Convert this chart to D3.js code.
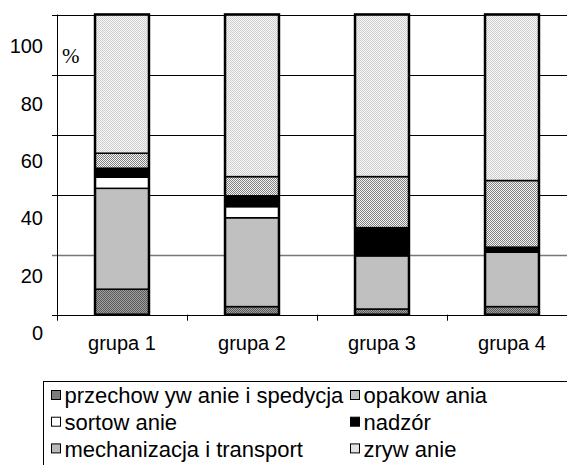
<!DOCTYPE html>
<meta charset="utf-8">
<style>
  body { margin: 0; background: #fff; }
  text { font-family: "Liberation Sans", Arial, sans-serif; fill: #000; }
  .grid line { stroke: #000; stroke-width: 1px; }
  .seg { stroke: #000; stroke-width: 1.5px; }
  .outline { fill: none; stroke: #000; stroke-width: 2.5px; }
</style>
<svg width="567" height="465"></svg>
<script src="https://cdn.jsdelivr.net/npm/d3@7"></script>
<script>

  var groups = ["grupa 1", "grupa 2", "grupa 3", "grupa 4"];
  var series = ["przechow yw anie i spedycja", "opakow ania", "sortow anie", "nadzór", "mechanizacja i transport", "zryw anie"];

  // udzialy w % (od dolu do gory)
  var przechowywanie = [8.5, 2.7, 1.9, 2.7];
  var opakowania     = [33.6, 29.6, 17.7, 18.1];
  var sortowanie     = [3.7, 3.7, 0, 0];
  var nadzor         = [3.0, 3.6, 9.4, 1.7];
  var mechanizacja   = [5.0, 6.4, 17.0, 22.2];
  var zrywanie       = [46.2, 54.0, 54.0, 55.3];

  var yTicks = [0, 20, 40, 60, 80, 100];

  var svg = d3.select("svg");

  // wzory wypelnien
  var defs = svg.append("defs");
  function checker(id, a, b) {
    var p = defs.append("pattern").attr("id", id)
          .attr("width", 2).attr("height", 2)
          .attr("patternUnits", "userSpaceOnUse");
    p.append("rect").attr("width", 2).attr("height", 2).attr("fill", b);
    p.append("rect").attr("width", 1).attr("height", 1).attr("fill", a);
    p.append("rect").attr("x", 1).attr("y", 1).attr("width", 1).attr("height", 1).attr("fill", a);
  }
  checker("p0", "#5a5a5a", "#a0a0a0");
  checker("p4", "#808080", "#f4f4f4");
  checker("p5", "#cfcfcf", "#f6f6f6");

  var fills = ["url(#p0)", "#c0c0c0", "#ffffff", "#000000", "url(#p4)", "url(#p5)"];

  var x = d3.scaleBand().domain(groups).range([57, 577])
        .paddingInner(0.585).paddingOuter(0.2925);
  var y = d3.scaleLinear().domain([0, 100]).range([314.7, 14.5]);
  var yLabel = d3.scaleLinear().domain([0, 100]).range([333, 46]); // etykiety przesuniete jak w oryginale

  // siatka
  svg.append("g").attr("class", "grid")
        .selectAll("line")
        .data(yTicks)
        .enter().append("line")
        .attr("x1", 52).attr("x2", 577)
        .attr("y1", function (d) { return Math.round(y(d)) + 0.5; })
        .attr("y2", function (d) { return Math.round(y(d)) + 0.5; })
        .style("stroke", function (d) { return d === 20 ? "#777" : "#000"; })
        .style("stroke-width", function (d) { return d === 20 ? 1.5 : 1; });

  // os Y
  svg.append("line").attr("x1", 57.5).attr("x2", 57.5)
        .attr("y1", y(100)).attr("y2", y(0)).attr("stroke", "#000");

  svg.append("g").selectAll("text")
        .data(yTicks)
        .enter().append("text")
        .attr("x", 43)
        .attr("y", function (d) { return yLabel(d); })
        .attr("dy", "0.36em")
        .attr("text-anchor", "end")
        .style("font-size", "20px")
        .text(function (d) { return d; });

  svg.append("text").attr("x", 62).attr("y", 63)
        .style("font-family", "'Liberation Serif', 'DejaVu Serif', serif")
        .style("font-size", "21px")
        .text("%");

  // os X - znaczniki na granicach kategorii
  var bounds = d3.range(groups.length).map(function (i) { return x.range()[0] + i * x.step(); });
  svg.append("g").selectAll("line")
        .data(bounds)
        .enter().append("line")
        .attr("x1", function (d) { return Math.round(d) + 0.5; })
        .attr("x2", function (d) { return Math.round(d) + 0.5; })
        .attr("y1", y(0)).attr("y2", y(0) + 6)
        .attr("stroke", "#000");

  svg.append("g").selectAll("text")
        .data(groups)
        .enter().append("text")
        .attr("x", function (d) { return x(d) + x.bandwidth() / 2; })
        .attr("y", 350)
        .attr("text-anchor", "middle")
        .style("font-size", "20px")
        .text(function (d) { return d; });

  // dane do stosu
  var table = groups.map(function (g, i) {
    return {group: g, s0: przechowywanie[i], s1: opakowania[i], s2: sortowanie[i],
            s3: nadzor[i], s4: mechanizacja[i], s5: zrywanie[i]};
  });
  var stack = d3.stack().keys(["s0", "s1", "s2", "s3", "s4", "s5"])(table);

  var layer = svg.append("g").selectAll("g")
        .data(stack)
        .enter().append("g")
        .attr("fill", function (d, i) { return fills[i]; });

  layer.selectAll("rect")
        .data(function (d) { return d.filter(function (e) { return e[1] - e[0] > 0; }); })
        .enter().append("rect")
        .attr("class", "seg")
        .attr("x", function (d) { return x(d.data.group); })
        .attr("width", x.bandwidth())
        .attr("y", function (d) { return y(d[1]); })
        .attr("height", function (d) { return y(d[0]) - y(d[1]); });

  svg.append("g").selectAll("rect")
        .data(groups)
        .enter().append("rect")
        .attr("class", "outline")
        .attr("x", function (d) { return x(d); })
        .attr("width", x.bandwidth())
        .attr("y", y(100))
        .attr("height", y(0) - y(100));

  // legenda
  svg.append("rect").attr("x", 43.5).attr("y", 381.5)
        .attr("width", 600).attr("height", 200)
        .attr("fill", "none").attr("stroke", "#000");

  var legend = svg.append("g").selectAll("g")
        .data(series)
        .enter().append("g")
        .attr("transform", function (d, i) {
          var col = i % 2, row = Math.floor(i / 2);
          return "translate(" + (col ? 350.5 : 51.5) + "," + (390.5 + row * 26.7) + ")";
        });

  legend.append("rect")
        .attr("width", 9).attr("height", 9)
        .attr("fill", function (d, i) { return fills[i]; })
        .attr("stroke", "#000");

  legend.append("text")
        .attr("x", 13)
        .attr("y", 5)
        .attr("dy", "0.36em")
        .style("font-size", "22px")
        .text(function (d) { return d; });

</script>
